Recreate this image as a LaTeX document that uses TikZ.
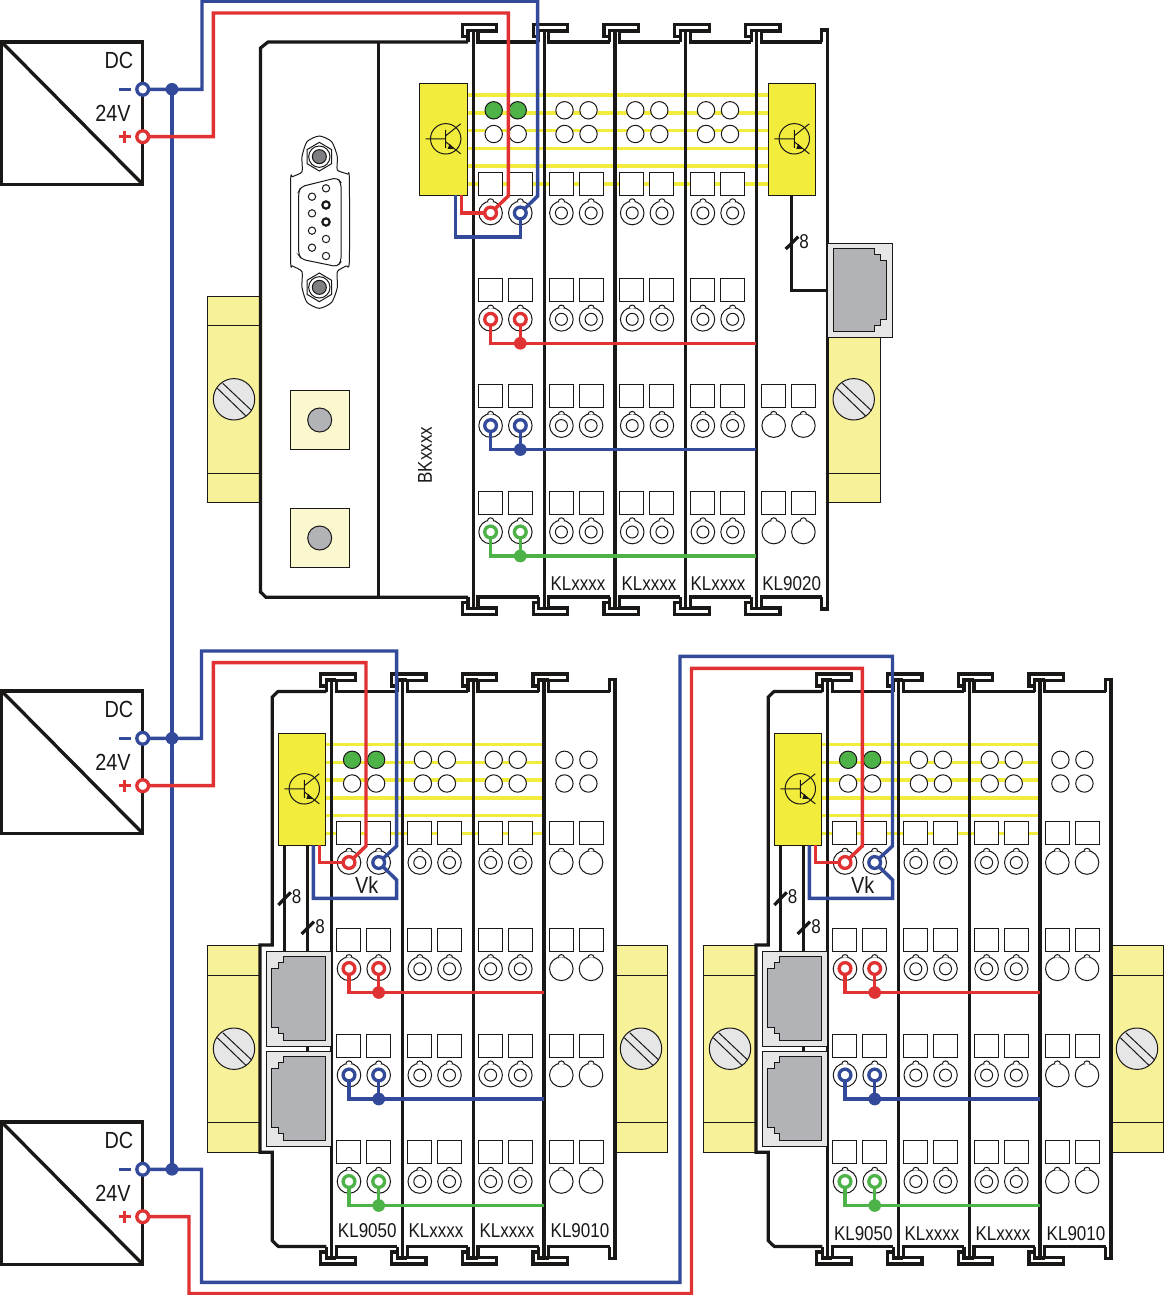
\documentclass[tikz,border=0pt]{standalone}
\usepackage{fontspec}
\setmainfont[FakeStretch=0.85]{Liberation Sans}
\definecolor{ink}{HTML}{1A1717}
\definecolor{yl}{HTML}{F2EC3C}
\definecolor{pale}{HTML}{F7F29A}
\definecolor{cream}{HTML}{FBF7CF}
\definecolor{rd}{HTML}{E03232}
\definecolor{bl}{HTML}{334A9A}
\definecolor{gn}{HTML}{4DB348}
\definecolor{grayp}{HTML}{B2B3B6}
\definecolor{lgray}{HTML}{E6E6E6}
\definecolor{dgray}{HTML}{7D7F83}
\pgfdeclarelayer{top}
\pgfsetlayers{main,top}
\tikzset{
  thinl/.style={line width=.75pt,draw=ink},
  wall/.style={line width=2.4pt,draw=ink,line join=miter},
  rw/.style={line width=2.6pt,draw=rd,line join=miter},
  bw/.style={line width=2.6pt,draw=bl,line join=miter},
  gw/.style={line width=2.6pt,draw=gn,line join=miter},
  ybar/.style={line width=2.7pt,draw=yl},
  ring/.style={circle,draw=#1,line width=2.5pt,fill=white,inner sep=0pt,minimum size=8.8pt},
  dot/.style={circle,fill=#1,inner sep=0pt,minimum size=9.5pt},
  lab/.style={text=ink,font=\fontsize{15}{15}\selectfont,inner sep=0pt},
  biglab/.style={text=ink,font=\fontsize{17.5}{17.5}\selectfont,inner sep=0pt},
}
% frame of a module: divider, notches and rails
\newcommand\mkframe[2]{%
  \draw[wall] (#1-5.3,42+#2)--(#1-5.3,36.5+#2)--(#1-11,36.5+#2)--(#1-11,24.5+#2)--(#1+23.5,24.5+#2)--(#1+23.5,31+#2)--(#1+4.7,31+#2)--(#1+4.7,42+#2)--(#1+65.5,42+#2);
  \draw[wall] (#1-5.3,36.5+#2)--(#1-5.3,30.5+#2)--(#1+4.7,30.5+#2);
  \draw[wall] (#1-5.3,597+#2)--(#1-5.3,602.5+#2)--(#1-11,602.5+#2)--(#1-11,614.5+#2)--(#1+23.5,614.5+#2)--(#1+23.5,608+#2)--(#1+4.7,608+#2)--(#1+4.7,597+#2)--(#1+65.5,597+#2);
  \draw[wall] (#1-5.3,602.5+#2)--(#1-5.3,608.5+#2)--(#1+4.7,608.5+#2);
  \draw[wall] (#1,30.5+#2)--(#1,608.5+#2);
}
\newcommand\mkend[2]{%
  \draw[wall] (#1+65.3,42+#2)--(#1+65.3,30+#2)--(#1+70.9,30+#2)--(#1+70.9,609+#2)--(#1+65.3,609+#2)--(#1+65.3,597+#2);
}
\newcommand\mksquares[3]{%
  \foreach \r in {#3}{
    \draw[thinl,fill=white] (#1+5,172.3+#2+\r) rectangle ++(24,23);
    \draw[thinl,fill=white] (#1+35,172.3+#2+\r) rectangle ++(24,23);
  }%
}
\newcommand\tcase[2]{%
  \begin{scope}[shift={(#1,#2)}]
    \draw[thinl,fill=white] (0,0) circle[radius=11.8];
    \draw[thinl,fill=white] (-3.2,-11.2) .. controls (-3,-15.2) and (3,-15.2) .. (3.2,-11.2);
  \end{scope}%
}
\newcommand\mkterms[2]{%
  \mksquares{#1}{#2}{0,106.3,212.6,319}
  \foreach \r in {0,106.3,212.6,319}{
    \tcase{#1+17.3}{213+#2+\r}
    \tcase{#1+47}{213+#2+\r}
    \draw[thinl] (#1+17.3,213+#2+\r) circle[radius=6];
    \draw[thinl] (#1+47,213+#2+\r) circle[radius=6];
  }%
}
\newcommand\mkplain[3]{%
  \foreach \r in {#3}{
    \tcase{#1+17.3}{213+#2+\r}
    \tcase{#1+47}{213+#2+\r}
  }%
}
\newcommand\mkleds[3]{%
  \foreach \c in {20.4,44.4}{
    \draw[thinl,fill=#3] (#1+\c,110.3+#2) circle[radius=8.7];
    \draw[thinl,fill=white] (#1+\c,134+#2) circle[radius=8.7];
  }%
}
\newcommand\mkbars[3]{%
  \foreach \y in {95,113,130.5,148.5,166,184}{
    \draw[ybar] (#1,\y+#3)--(#2,\y+#3);
  }%
}
\newcommand\mkcoupler[2]{%
  \begin{scope}[shift={(#1,#2)}]
    \draw[thinl,fill=yl] (0,0) rectangle (47.5,112);
    \begin{scope}[shift={(26,55.5)}]
      \draw[thinl] (0,0) circle[radius=15.2];
      \draw[thinl] (-20,0)--(0,0) (0,-9)--(0,9) (0,-3)--(15,-15) (0,3)--(15,15);
      \fill[ink] (2,10)--(8,10)--(4,5)--cycle;
    \end{scope}
  \end{scope}%
}
\newcommand\mkmount[8]{%
  \draw[thinl,fill=pale] (#1,#3) rectangle (#2,#4);
  \draw[thinl] (#1,#5)--(#2,#5) (#1,#6)--(#2,#6);
  \begin{scope}[shift={(#7,#8)}]
    \draw[thinl,fill=lgray] (0,0) circle[radius=20.7];
    \draw[thinl] (-11.3,-16)--(17.7,11.3) (-16.7,-11)--(12,16.7);
  \end{scope}%
}
\newcommand\mkport[3]{%
  \begin{scope}[shift={(#1,#2)},xscale=#3]
    \draw[thinl,fill=lgray] (0,0) rectangle (65,94.5);
    \draw[thinl,fill=grayp] (6,5)--(47.4,5)--(47.4,11)--(53,11)--(53,17)--(59.4,17)--(59.4,76)--(53,76)--(53,82)--(47.4,82)--(47.4,88.4)--(6,88.4)--cycle;
  \end{scope}%
}
\newcommand\mkbutton[1]{%
  \draw[thinl,fill=cream] (290.3,#1) rectangle ++(59.4,59);
  \draw[thinl,fill=grayp] (319.7,#1+29.7) circle[radius=12];
}
\newcommand\mkscrew[1]{%
  \draw[thinl,fill=white] (178,#1-43)--(215,#1-21)--(215,#1+21)--(178,#1+43)--(141,#1+21)--(141,#1-21)--cycle;
  \draw[thinl,fill=white] (178,#1) circle[radius=32];
  \draw[thinl,fill=dgray] (178,#1) circle[radius=21];
}
% power supply unit with its two output terminals
\newcommand\mkps[2]{%
  \draw[line width=2.5pt,draw=ink,line join=miter] (1.6,42+#2) rectangle (142.7,184.3+#2);
  \draw[line width=2.5pt,draw=ink] (1.6,42+#2)--(142.7,184.3+#2);
  \node[biglab] (dc#1) at (119,60+#2) {DC};
  \node[biglab] (v#1) at (113,113+#2) {24V};
  \draw[bw] (119,89.3+#2)--(130.7,89.3+#2);
  \draw[rw] (118.5,136.7+#2)--(130.7,136.7+#2) (124.5,130.5+#2)--(124.5,143+#2);
  \begin{pgfonlayer}{top}
    \node[ring=bl] (ps#1n) at (142.7,89.3+#2) {};
    \node[ring=rd] (ps#1p) at (142.7,136.7+#2) {};
  \end{pgfonlayer}%
}
% a row of two coloured terminals joined to a rail
\newcommand\mkrow[6]{%
  \begin{pgfonlayer}{top}
    \node[ring=#3] (#1a) at (#2+17.3,#5) {};
    \node[ring=#3] (#1b) at (#2+47,#5) {};
    \node[dot=#3] (#1d) at (#2+47,#5+24) {};
  \end{pgfonlayer}
  \draw[#4] (#1a.center) |- (#1d.center) -- (#6,#5+24);
  \draw[#4] (#1b.center) -- (#1d.center);
}
% lower station: bus coupler, two KLxxxx, end terminal
\newcommand\mklow[3]{%
  \begin{scope}[shift={(#1,0)}]
    \mkmount{207.3}{259.5}{945}{1152.3}{975}{1122.3}{234}{1048.7}
    \mkmount{615}{667.3}{945}{1152.3}{975}{1122.3}{641}{1048.7}
    \mkbars{326}{544}{649.5}
    \mkframe{331.7}{649.5}\mkframe{402.5}{649.5}\mkframe{473.3}{649.5}\mkframe{544}{649.5}\mkend{544}{649.5}
    \draw[wall] (326.4,691.5)--(278,691.5)--(272.3,697)--(272.3,945)--(260,945)--(260,1152.3)--(272.3,1152.3)--(272.3,1240.7)--(278.3,1246.5)--(326.4,1246.5);
    \mkterms{331.7}{649.5}\mkterms{402.5}{649.5}\mkterms{473.3}{649.5}
    \mksquares{544}{649.5}{0,106.3,212.6,319}
    \mkplain{544}{649.5}{0,106.3,212.6,319}
    \mkleds{331.7}{649.5}{gn}\mkleds{402.5}{649.5}{white}\mkleds{473.3}{649.5}{white}\mkleds{544}{649.5}{white}
    \draw[wall] (284.3,845)--(284.3,952) (307.3,845)--(307.3,1052);
    \draw[wall] (278.3,905)--(290.7,892.3) (301.7,934)--(314,921.7);
    \node[lab] (#2e1) at (296.7,896.7) {8};
    \node[lab] (#2e2) at (320,926.7) {8};
    \mkcoupler{278.3}{733.3}
    \mkport{331}{951.7}{-1}
    \mkport{331}{1051.7}{-1}
    \node[biglab] (#2vk) at (366.7,885) {Vk};
    \node[lab] (#2l1) at (367.3,#3) {KL9050};
    \node[lab] (#2l2) at (436,#3) {KLxxxx};
    \node[lab] (#2l3) at (507,#3) {KLxxxx};
    \node[lab] (#2l4) at (580,#3) {KL9010};
    \begin{pgfonlayer}{top}
      \node[ring=rd] (#2r) at (349,862.5) {};
      \node[ring=bl] (#2n) at (378.7,862.5) {};
    \end{pgfonlayer}
    \draw[rw] (319.3,845.3)--(319.3,862.5)--(#2r.center);
    \draw[bw] (#2n.center)--(396.7,880)--(396.7,898.3)--(313.3,898.3)--(313.3,845.3);
    \mkrow{#2p}{331.7}{rd}{rw}{968.5}{544}
    \mkrow{#2m}{331.7}{bl}{bw}{1075}{544}
    \mkrow{#2g}{331.7}{gn}{gw}{1181.5}{544}
  \end{scope}%
}
\begin{document}
\begin{tikzpicture}[x=.75pt,y=-.75pt]
\fill[white] (0,0) rectangle (1164,1295);
\useasboundingbox (0,0) rectangle (1164,1295);

% ===== power supplies
\mkps{1}{0}
\mkps{2}{649}
\mkps{3}{1080}

% ===== upper station
\mkmount{207.3}{259.5}{296}{502.3}{325}{473}{234}{399.3}
\mkmount{827}{880.7}{296}{502.3}{325}{473}{853.7}{399.3}
\mkbars{468}{768}{0}
\mkframe{473.3}{0}\mkframe{544.1}{0}\mkframe{614.9}{0}\mkframe{685.6}{0}\mkframe{756.4}{0}\mkend{756.4}{0}
\draw[wall] (468,42)--(268,42)--(260.5,48)--(260.5,592)--(266,597.3)--(468,597.3);
\draw[wall] (378.4,42)--(378.4,597.3);
\mkterms{473.3}{0}\mkterms{544.1}{0}\mkterms{614.9}{0}\mkterms{685.6}{0}
\mksquares{756.4}{0}{212.6,319}
\mkplain{756.4}{0}{212.6,319}
\mkleds{473.3}{0}{gn}\mkleds{544.1}{0}{white}\mkleds{614.9}{0}{white}\mkleds{685.6}{0}{white}
\mkcoupler{419.7}{83.3}
\mkcoupler{768.3}{83.3}
\mkbutton{390.3}
\mkbutton{508.3}
% sub-D connector
\begin{scope}[shift={(260,0)},x=.25pt,y=-.25pt]
  \draw[thinl,fill=white] plot[smooth cycle,tension=.4] coordinates {(126,470)(141,425)(178,408)(215,425)(232,470)(232,510)(262,522)(268,535)(268,785)(258,798)(232,815)(232,862)(215,907)(178,925)(141,907)(126,862)(126,815)(98,798)(92,785)(92,540)(98,530)(126,515)};
  \draw[thinl,rounded corners=3pt] (116,575)--(123,560)--(232,533)--(243,548)--(243,785)--(232,800)--(125,778)--(116,765)--cycle;
  \mkscrew{470}
  \mkscrew{862}
  \foreach \y in {590,640,692,743}{\draw[thinl] (156,\y) circle[radius=11];}
  \foreach \y in {565,717,768}{\draw[thinl] (198,\y) circle[radius=11];}
  \foreach \y in {615,666}{\draw[line width=1.6pt,draw=ink] (198,\y) circle[radius=11];}
\end{scope}
\draw[wall] (791.7,195)--(791.7,290.3)--(827,290.3);
\draw[wall] (785.7,249)--(798.3,236.7);
\node[lab] (bke) at (804,241.7) {8};
\mkport{827.3}{243.3}{1}
\node[lab,rotate=90] (bkn) at (425,455) {BKxxxx};
\node[lab] (bk2) at (578,583.5) {KLxxxx};
\node[lab] (bk3) at (649,583.5) {KLxxxx};
\node[lab] (bk4) at (718,583.5) {KLxxxx};
\node[lab] (bk5) at (791.7,583.5) {KL9020};
\begin{pgfonlayer}{top}
  \node[ring=rd] (ur) at (490.6,213) {};
  \node[ring=bl] (un) at (520.3,213) {};
  \node[dot=bl] (j1) at (172,89.3) {};
  \node[dot=bl] (j2) at (172,738.3) {};
  \node[dot=bl] (j3) at (172,1169.3) {};
\end{pgfonlayer}
\mkrow{up}{473.3}{rd}{rw}{319.3}{756.4}
\mkrow{um}{473.3}{bl}{bw}{425.6}{756.4}
\mkrow{ug}{473.3}{gn}{gw}{532}{756.4}
\draw[rw] (461.7,195.3)--(461.7,213)--(ur.center);
\draw[bw] (455.7,195.3)--(455.7,237)--(520.3,237)--(un.center);

% ===== lower stations
\mklow{0}{a}{1230.7}
\mklow{496}{b}{1233.5}

% ===== supply wiring
\draw[bw] (j1.center)--(j3.center);
\draw[rw] (ps1p.center)--(213.3,136.7)--(213.3,13)--(508.3,13)--(508.3,196)--(ur.center);
\draw[bw] (ps1n.center)--(202,89.3)--(202,1.2)--(537.7,1.2)--(537.7,196)--(un.center);
\draw[rw] (ps2p.center)--(213.3,785.7)--(213.3,662.7)--(366,662.7)--(366,846)--(ar.center);
\draw[bw] (ps2n.center)--(201.5,738.3)--(201.5,651)--(396.7,651)--(396.7,846)--(an.center);
\draw[rw] (ps3p.center)--(189,1216.7)--(189,1293.5)--(691.5,1293.5)--(691.5,668.3)--(862.3,668.3)--(862.3,846)--(br.center);
\draw[bw] (ps3n.center)--(201.5,1169.3)--(201.5,1282.3)--(680,1282.3)--(680,656.3)--(892.5,656.3)--(892.5,846)--(bn.center);
\end{tikzpicture}
\end{document}
